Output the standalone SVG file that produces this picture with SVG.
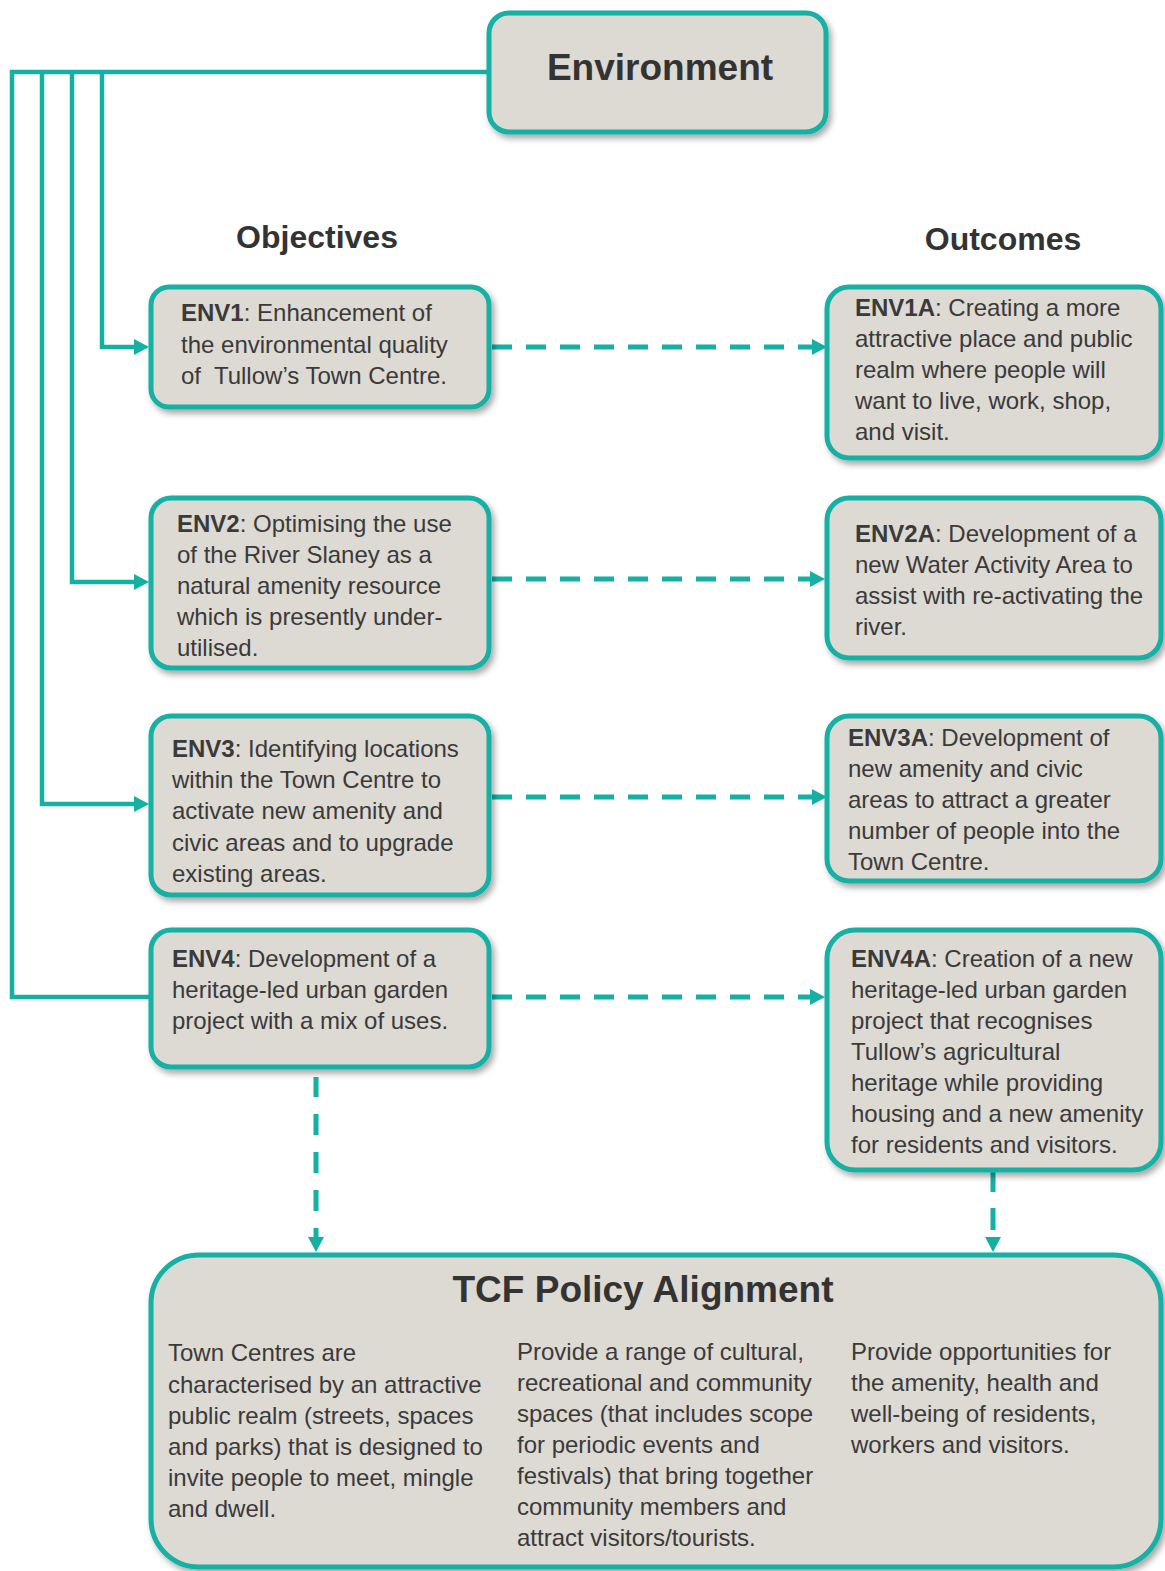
<svg xmlns="http://www.w3.org/2000/svg" width="1165" height="1571" viewBox="0 0 1165 1571">
<style>
.box{fill:#DDD9D3;stroke:#14B0A4;stroke-width:5;filter:url(#sh)}
.t{font-family:"Liberation Sans",Arial,sans-serif;font-size:24px;fill:#3a3a3a}
.b{font-weight:bold}
.h{font-family:"Liberation Sans",Arial,sans-serif;font-weight:bold;fill:#333333}
.conn{fill:none;stroke:#14B0A4;stroke-width:4.5;stroke-linejoin:miter}
.dash{fill:none;stroke:#14B0A4;stroke-width:5;stroke-dasharray:20 14}
</style>
<defs>
<filter id="sh" x="-10%" y="-10%" width="130%" height="130%">
<feDropShadow dx="3" dy="4" stdDeviation="3" flood-color="#000" flood-opacity="0.35"/>
</filter>
<marker id="ah" markerUnits="userSpaceOnUse" markerWidth="15" markerHeight="16" refX="0" refY="8" orient="auto" viewBox="0 0 15 16">
<path d="M0,0 L15,8 L0,16 z" fill="#14B0A4"/>
</marker>
</defs>
<rect width="1165" height="1571" fill="#ffffff"/>

<g id="connectors">
<path class="conn" d="M488,72 H12 V997 H150"/>
<path class="conn" d="M42,72 V804 H134" marker-end="url(#ah)"/>
<path class="conn" d="M72,72 V582 H134" marker-end="url(#ah)"/>
<path class="conn" d="M102,72 V347 H134" marker-end="url(#ah)"/>
<path class="dash" d="M492,347 H812" marker-end="url(#ah)"/>
<path class="dash" d="M492,579 H810" marker-end="url(#ah)"/>
<path class="dash" d="M492,797 H812" marker-end="url(#ah)"/>
<path class="dash" d="M492,997 H810" marker-end="url(#ah)"/>
<path class="dash" d="M316,1069 V1237" style="stroke-dasharray:0 8 20 17 21 17 21 17 21 17 21 17 21 17 21" marker-end="url(#ah)"/>
<path class="dash" d="M993,1170 V1237" style="stroke-dasharray:22 16 22 20" marker-end="url(#ah)"/>
</g>

<g id="environment">
<rect class="box" x="489" y="13" width="337" height="119" rx="20"/>
<text class="h" x="660" y="80" font-size="37" text-anchor="middle">Environment</text>
</g>

<g id="headers">
<text class="h" x="317" y="248" font-size="32" text-anchor="middle">Objectives</text>
<text class="h" x="1003" y="250" font-size="32" text-anchor="middle">Outcomes</text>
</g>

<g id="env1">
<rect class="box" x="151" y="287" width="338" height="120" rx="18"/>
<text class="t" x="181" y="321"><tspan class="b">ENV1</tspan>: Enhancement of</text>
<text class="t" x="181" y="353">the environmental quality</text>
<text class="t" x="181" y="384" xml:space="preserve">of  Tullow’s Town Centre.</text>
</g>

<g id="env2">
<rect class="box" x="151" y="498" width="338" height="170" rx="20"/>
<text class="t" x="177" y="532"><tspan class="b">ENV2</tspan>: Optimising the use</text>
<text class="t" x="177" y="563">of the River Slaney as a</text>
<text class="t" x="177" y="594">natural amenity resource</text>
<text class="t" x="177" y="625">which is presently under-</text>
<text class="t" x="177" y="656">utilised.</text>
</g>

<g id="env3">
<rect class="box" x="151" y="716" width="338" height="179" rx="20"/>
<text class="t" x="172" y="757"><tspan class="b">ENV3</tspan>: Identifying locations</text>
<text class="t" x="172" y="788">within the Town Centre to</text>
<text class="t" x="172" y="819">activate new amenity and</text>
<text class="t" x="172" y="851">civic areas and to upgrade</text>
<text class="t" x="172" y="882">existing areas.</text>
</g>

<g id="env4">
<rect class="box" x="151" y="930" width="338" height="137" rx="20"/>
<text class="t" x="172" y="967"><tspan class="b">ENV4</tspan>: Development of a</text>
<text class="t" x="172" y="998">heritage-led urban garden</text>
<text class="t" x="172" y="1029">project with a mix of uses.</text>
</g>

<g id="env1a">
<rect class="box" x="827" y="287" width="334" height="171" rx="22"/>
<text class="t" x="855" y="316"><tspan class="b">ENV1A</tspan>: Creating a more</text>
<text class="t" x="855" y="347">attractive place and public</text>
<text class="t" x="855" y="378">realm where people will</text>
<text class="t" x="855" y="409">want to live, work, shop,</text>
<text class="t" x="855" y="440">and visit.</text>
</g>

<g id="env2a">
<rect class="box" x="827" y="498" width="334" height="160" rx="22"/>
<text class="t" x="855" y="542"><tspan class="b">ENV2A</tspan>: Development of a</text>
<text class="t" x="855" y="573">new Water Activity Area to</text>
<text class="t" x="855" y="604">assist with re-activating the</text>
<text class="t" x="855" y="635">river.</text>
</g>

<g id="env3a">
<rect class="box" x="827" y="716" width="334" height="165" rx="22"/>
<text class="t" x="848" y="746"><tspan class="b">ENV3A</tspan>: Development of</text>
<text class="t" x="848" y="777">new amenity and civic</text>
<text class="t" x="848" y="808">areas to attract a greater</text>
<text class="t" x="848" y="839">number of people into the</text>
<text class="t" x="848" y="870">Town Centre.</text>
</g>

<g id="env4a">
<rect class="box" x="827" y="930" width="334" height="240" rx="28"/>
<text class="t" x="851" y="967"><tspan class="b">ENV4A</tspan>: Creation of a new</text>
<text class="t" x="851" y="998">heritage-led urban garden</text>
<text class="t" x="851" y="1029">project that recognises</text>
<text class="t" x="851" y="1060">Tullow’s agricultural</text>
<text class="t" x="851" y="1091">heritage while providing</text>
<text class="t" x="851" y="1122">housing and a new amenity</text>
<text class="t" x="851" y="1153">for residents and visitors.</text>
</g>

<g id="tcf">
<rect class="box" x="151" y="1255" width="1010" height="312" rx="48"/>
<text class="h" x="643" y="1302" font-size="37" text-anchor="middle">TCF Policy Alignment</text>
<text class="t" x="168" y="1361">Town Centres are</text>
<text class="t" x="168" y="1393">characterised by an attractive</text>
<text class="t" x="168" y="1424">public realm (streets, spaces</text>
<text class="t" x="168" y="1455">and parks) that is designed to</text>
<text class="t" x="168" y="1486">invite people to meet, mingle</text>
<text class="t" x="168" y="1517">and dwell.</text>
<text class="t" x="517" y="1360">Provide a range of cultural,</text>
<text class="t" x="517" y="1391">recreational and community</text>
<text class="t" x="517" y="1422">spaces (that includes scope</text>
<text class="t" x="517" y="1453">for periodic events and</text>
<text class="t" x="517" y="1484">festivals) that bring together</text>
<text class="t" x="517" y="1515">community members and</text>
<text class="t" x="517" y="1546">attract visitors/tourists.</text>
<text class="t" x="851" y="1360">Provide opportunities for</text>
<text class="t" x="851" y="1391">the amenity, health and</text>
<text class="t" x="851" y="1422">well-being of residents,</text>
<text class="t" x="851" y="1453">workers and visitors.</text>
</g>
</svg>
